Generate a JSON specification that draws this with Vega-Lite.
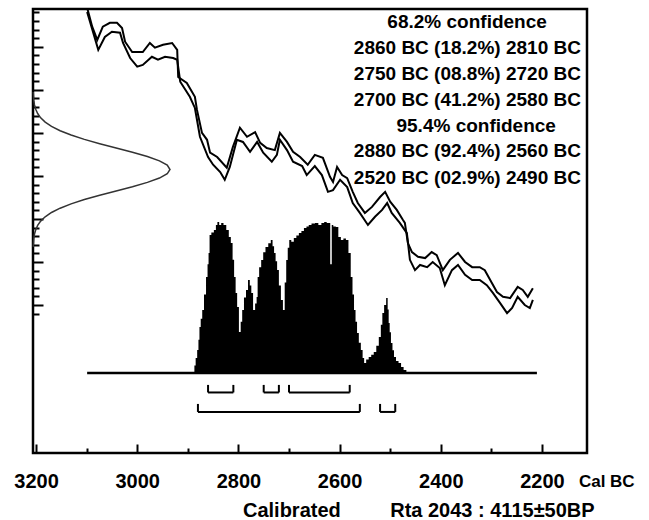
{
"$schema": "https://vega.github.io/schema/vega-lite/v6.json",
"width": 554, "height": 444,
"autosize": {"type": "none"},
"padding": {"left": 33, "top": 9, "right": 62, "bottom": 67},
"background": "white",
"config": {"view": {"stroke": "black", "strokeWidth": 2.5}, "font": "Liberation Sans"},
"datasets": {
"curve": [
{"s":"u","cal":3099,"bp":4491},{"s":"u","cal":3089,"bp":4447},{"s":"u","cal":3079,"bp":4416},{"s":"u","cal":3068,"bp":4447},{"s":"u","cal":3054,"bp":4456},{"s":"u","cal":3040,"bp":4456},{"s":"u","cal":3030,"bp":4444},{"s":"u","cal":3024,"bp":4412},{"s":"u","cal":3010,"bp":4388},{"s":"u","cal":2989,"bp":4388},{"s":"u","cal":2975,"bp":4409},{"s":"u","cal":2965,"bp":4398},{"s":"u","cal":2949,"bp":4405},{"s":"u","cal":2931,"bp":4409},{"s":"u","cal":2921,"bp":4393},{"s":"u","cal":2919,"bp":4330},{"s":"u","cal":2902,"bp":4316},{"s":"u","cal":2886,"bp":4284},{"s":"u","cal":2882,"bp":4254},{"s":"u","cal":2872,"bp":4200},{"s":"u","cal":2862,"bp":4184},{"s":"u","cal":2856,"bp":4154},{"s":"u","cal":2842,"bp":4144},{"s":"u","cal":2823,"bp":4119},{"s":"u","cal":2811,"bp":4167},{"s":"u","cal":2797,"bp":4212},{"s":"u","cal":2783,"bp":4191},{"s":"u","cal":2767,"bp":4202},{"s":"u","cal":2757,"bp":4177},{"s":"u","cal":2744,"bp":4165},{"s":"u","cal":2728,"bp":4160},{"s":"u","cal":2718,"bp":4200},{"s":"u","cal":2704,"bp":4179},{"s":"u","cal":2692,"bp":4156},{"s":"u","cal":2678,"bp":4144},{"s":"u","cal":2663,"bp":4126},{"s":"u","cal":2649,"bp":4149},{"s":"u","cal":2633,"bp":4142},{"s":"u","cal":2619,"bp":4098},{"s":"u","cal":2613,"bp":4086},{"s":"u","cal":2605,"bp":4121},{"s":"u","cal":2595,"bp":4102},{"s":"u","cal":2585,"bp":4095},{"s":"u","cal":2574,"bp":4063},{"s":"u","cal":2564,"bp":4037},{"s":"u","cal":2550,"bp":4014},{"s":"u","cal":2536,"bp":4028},{"s":"u","cal":2520,"bp":4051},{"s":"u","cal":2510,"bp":4063},{"s":"u","cal":2500,"bp":4040},{"s":"u","cal":2487,"bp":4021},{"s":"u","cal":2475,"bp":3998},{"s":"u","cal":2471,"bp":3991},{"s":"u","cal":2465,"bp":3944},{"s":"u","cal":2457,"bp":3923},{"s":"u","cal":2445,"bp":3912},{"s":"u","cal":2431,"bp":3909},{"s":"u","cal":2418,"bp":3923},{"s":"u","cal":2408,"bp":3916},{"s":"u","cal":2396,"bp":3881},{"s":"u","cal":2382,"bp":3905},{"s":"u","cal":2366,"bp":3921},{"s":"u","cal":2352,"bp":3900},{"s":"u","cal":2338,"bp":3888},{"s":"u","cal":2323,"bp":3888},{"s":"u","cal":2313,"bp":3881},{"s":"u","cal":2299,"bp":3851},{"s":"u","cal":2289,"bp":3830},{"s":"u","cal":2277,"bp":3819},{"s":"u","cal":2263,"bp":3816},{"s":"u","cal":2248,"bp":3842},{"s":"u","cal":2238,"bp":3835},{"s":"u","cal":2228,"bp":3819},{"s":"u","cal":2218,"bp":3839},
{"s":"l","cal":3099,"bp":4481},{"s":"l","cal":3077,"bp":4393},{"s":"l","cal":3064,"bp":4423},{"s":"l","cal":3050,"bp":4435},{"s":"l","cal":3034,"bp":4433},{"s":"l","cal":3028,"bp":4409},{"s":"l","cal":3014,"bp":4374},{"s":"l","cal":3000,"bp":4354},{"s":"l","cal":2989,"bp":4358},{"s":"l","cal":2971,"bp":4377},{"s":"l","cal":2959,"bp":4370},{"s":"l","cal":2945,"bp":4377},{"s":"l","cal":2929,"bp":4374},{"s":"l","cal":2921,"bp":4370},{"s":"l","cal":2915,"bp":4319},{"s":"l","cal":2896,"bp":4284},{"s":"l","cal":2886,"bp":4258},{"s":"l","cal":2876,"bp":4191},{"s":"l","cal":2860,"bp":4144},{"s":"l","cal":2850,"bp":4126},{"s":"l","cal":2836,"bp":4109},{"s":"l","cal":2827,"bp":4091},{"s":"l","cal":2817,"bp":4121},{"s":"l","cal":2803,"bp":4184},{"s":"l","cal":2791,"bp":4179},{"s":"l","cal":2777,"bp":4156},{"s":"l","cal":2763,"bp":4179},{"s":"l","cal":2751,"bp":4154},{"s":"l","cal":2734,"bp":4133},{"s":"l","cal":2724,"bp":4149},{"s":"l","cal":2718,"bp":4184},{"s":"l","cal":2704,"bp":4160},{"s":"l","cal":2692,"bp":4133},{"s":"l","cal":2674,"bp":4123},{"s":"l","cal":2665,"bp":4102},{"s":"l","cal":2649,"bp":4123},{"s":"l","cal":2635,"bp":4102},{"s":"l","cal":2623,"bp":4063},{"s":"l","cal":2613,"bp":4067},{"s":"l","cal":2599,"bp":4091},{"s":"l","cal":2585,"bp":4074},{"s":"l","cal":2574,"bp":4037},{"s":"l","cal":2560,"bp":4014},{"s":"l","cal":2544,"bp":3986},{"s":"l","cal":2530,"bp":4005},{"s":"l","cal":2516,"bp":4021},{"s":"l","cal":2506,"bp":4037},{"s":"l","cal":2497,"bp":4014},{"s":"l","cal":2481,"bp":3991},{"s":"l","cal":2467,"bp":3967},{"s":"l","cal":2461,"bp":3905},{"s":"l","cal":2451,"bp":3881},{"s":"l","cal":2441,"bp":3893},{"s":"l","cal":2427,"bp":3888},{"s":"l","cal":2416,"bp":3900},{"s":"l","cal":2402,"bp":3886},{"s":"l","cal":2392,"bp":3846},{"s":"l","cal":2378,"bp":3881},{"s":"l","cal":2366,"bp":3893},{"s":"l","cal":2352,"bp":3870},{"s":"l","cal":2338,"bp":3858},{"s":"l","cal":2323,"bp":3858},{"s":"l","cal":2309,"bp":3846},{"s":"l","cal":2297,"bp":3828},{"s":"l","cal":2283,"bp":3805},{"s":"l","cal":2269,"bp":3781},{"s":"l","cal":2259,"bp":3793},{"s":"l","cal":2248,"bp":3819},{"s":"l","cal":2234,"bp":3800},{"s":"l","cal":2224,"bp":3793},{"s":"l","cal":2218,"bp":3812}
],
"gauss": [
{"bp":3935,"d":0.0015},{"bp":3955,"d":0.006},{"bp":3965,"d":0.011},{"bp":3975,"d":0.02},{"bp":3985,"d":0.034},{"bp":3995,"d":0.056},{"bp":4005,"d":0.089},{"bp":4015,"d":0.135},{"bp":4025,"d":0.198},{"bp":4035,"d":0.278},{"bp":4045,"d":0.375},{"bp":4055,"d":0.487},{"bp":4065,"d":0.607},{"bp":4075,"d":0.726},{"bp":4085,"d":0.835},{"bp":4095,"d":0.923},{"bp":4105,"d":0.98},{"bp":4115,"d":1.0},{"bp":4125,"d":0.98},{"bp":4135,"d":0.923},{"bp":4145,"d":0.835},{"bp":4155,"d":0.726},{"bp":4165,"d":0.607},{"bp":4175,"d":0.487},{"bp":4185,"d":0.375},{"bp":4195,"d":0.278},{"bp":4205,"d":0.198},{"bp":4215,"d":0.135},{"bp":4225,"d":0.089},{"bp":4235,"d":0.056},{"bp":4245,"d":0.034},{"bp":4255,"d":0.02},{"bp":4265,"d":0.011},{"bp":4275,"d":0.006},{"bp":4295,"d":0.0015}
],
"hist": [
{"cal":2888,"p":0},{"cal":2886,"p":0.05},{"cal":2883,"p":0.1},{"cal":2880,"p":0.152},{"cal":2878,"p":0.22},{"cal":2876,"p":0.305},{"cal":2873,"p":0.36},{"cal":2870,"p":0.417},{"cal":2866,"p":0.52},{"cal":2862,"p":0.636},{"cal":2860,"p":0.72},{"cal":2858,"p":0.795},{"cal":2856,"p":0.914},{"cal":2851,"p":0.93},{"cal":2846,"p":0.947},{"cal":2843,"p":0.98},{"cal":2840,"p":1.0},{"cal":2836,"p":0.98},{"cal":2832,"p":0.993},{"cal":2827,"p":0.98},{"cal":2821,"p":0.947},{"cal":2817,"p":0.9},{"cal":2813,"p":0.861},{"cal":2810,"p":0.75},{"cal":2807,"p":0.636},{"cal":2804,"p":0.53},{"cal":2801,"p":0.437},{"cal":2797,"p":0.272},{"cal":2794,"p":0.34},{"cal":2791,"p":0.417},{"cal":2787,"p":0.5},{"cal":2783,"p":0.55},{"cal":2779,"p":0.616},{"cal":2776,"p":0.58},{"cal":2773,"p":0.53},{"cal":2769,"p":0.417},{"cal":2765,"p":0.46},{"cal":2763,"p":0.503},{"cal":2761,"p":0.636},{"cal":2757,"p":0.7},{"cal":2753,"p":0.748},{"cal":2749,"p":0.8},{"cal":2744,"p":0.834},{"cal":2738,"p":0.86},{"cal":2734,"p":0.881},{"cal":2731,"p":0.84},{"cal":2728,"p":0.795},{"cal":2725,"p":0.74},{"cal":2722,"p":0.682},{"cal":2718,"p":0.58},{"cal":2714,"p":0.483},{"cal":2710,"p":0.417},{"cal":2707,"p":0.6},{"cal":2704,"p":0.748},{"cal":2701,"p":0.83},{"cal":2698,"p":0.881},{"cal":2693,"p":0.87},{"cal":2688,"p":0.894},{"cal":2683,"p":0.91},{"cal":2678,"p":0.927},{"cal":2673,"p":0.94},{"cal":2668,"p":0.96},{"cal":2663,"p":0.97},{"cal":2659,"p":0.98},{"cal":2652,"p":0.99},{"cal":2645,"p":0.993},{"cal":2639,"p":0.98},{"cal":2633,"p":0.993},{"cal":2628,"p":1.0},{"cal":2623,"p":0.993},{"cal":2619,"p":0.993},{"cal":2618,"p":0.72},{"cal":2616,"p":0.72},{"cal":2615,"p":0.98},{"cal":2610,"p":0.97},{"cal":2605,"p":0.967},{"cal":2600,"p":0.9},{"cal":2595,"p":0.881},{"cal":2590,"p":0.89},{"cal":2585,"p":0.881},{"cal":2580,"p":0.795},{"cal":2576,"p":0.636},{"cal":2573,"p":0.52},{"cal":2570,"p":0.417},{"cal":2567,"p":0.34},{"cal":2564,"p":0.265},{"cal":2560,"p":0.2},{"cal":2556,"p":0.152},{"cal":2553,"p":0.1},{"cal":2550,"p":0.066},{"cal":2545,"p":0.09},{"cal":2540,"p":0.106},{"cal":2535,"p":0.12},{"cal":2530,"p":0.139},{"cal":2525,"p":0.18},{"cal":2520,"p":0.238},{"cal":2517,"p":0.32},{"cal":2514,"p":0.397},{"cal":2510,"p":0.45},{"cal":2506,"p":0.497},{"cal":2504,"p":0.42},{"cal":2502,"p":0.331},{"cal":2500,"p":0.27},{"cal":2497,"p":0.199},{"cal":2494,"p":0.15},{"cal":2491,"p":0.106},{"cal":2486,"p":0.08},{"cal":2481,"p":0.066},{"cal":2476,"p":0.04},{"cal":2471,"p":0.02},{"cal":2465,"p":0}
],
"base": [{"a":3099,"b":2210,"p":0}],
"brackets": [
{"a":2860,"b":2810,"lvl":-0.129,"top":-0.079},
{"a":2750,"b":2720,"lvl":-0.129,"top":-0.079},
{"a":2700,"b":2580,"lvl":-0.129,"top":-0.079},
{"a":2880,"b":2560,"lvl":-0.258,"top":-0.205},
{"a":2520,"b":2490,"lvl":-0.258,"top":-0.205}
],
"heads": [
{"t":"68.2% confidence","cal":2348,"bp":4442.7},
{"t":"95.4% confidence","cal":2330,"bp":4203.2}
],
"rows": [
{"t":"2860 BC (18.2%) 2810 BC","cal":2123,"bp":4383.4},
{"t":"2750 BC (08.8%) 2720 BC","cal":2123,"bp":4324.1},
{"t":"2700 BC (41.2%) 2580 BC","cal":2123,"bp":4262.5},
{"t":"2880 BC (92.4%) 2560 BC","cal":2123,"bp":4144},
{"t":"2520 BC (02.9%) 2490 BC","cal":2123,"bp":4082.4}
],
"unit": [{"t":"Cal BC","cal":2127,"bp":3377}],
"foot": [
{"t":"Calibrated","cal":2791,"bp":3307},
{"t":"Rta 2043 : 4115±50BP","cal":2500,"bp":3307}
]
},
"resolve": {"scale": {"x": "independent", "y": "independent"}},
"layer": [
{
"data": {"name": "hist"},
"mark": {"type": "area", "color": "black", "opacity": 1, "interpolate": "step"},
"encoding": {
"x": {"field": "cal", "type": "quantitative", "scale": {"domain": [2111, 3206], "reverse": true, "nice": false, "zero": false}, "axis": null},
"y": {"field": "p", "type": "quantitative", "scale": {"domain": [-0.53, 2.411], "nice": false, "zero": false}, "axis": null},
"y2": {"datum": 0}
}
},
{
"data": {"name": "base"},
"mark": {"type": "rule", "color": "black", "strokeWidth": 2.5},
"encoding": {
"x": {"field": "a", "type": "quantitative", "scale": {"domain": [2111, 3206], "reverse": true, "nice": false, "zero": false}, "axis": null},
"x2": {"field": "b"},
"y": {"field": "p", "type": "quantitative", "scale": {"domain": [-0.53, 2.411], "nice": false, "zero": false}, "axis": null}
}
},
{
"data": {"name": "brackets"},
"mark": {"type": "rule", "color": "black", "strokeWidth": 2},
"encoding": {
"x": {"field": "a", "type": "quantitative", "scale": {"domain": [2111, 3206], "reverse": true, "nice": false, "zero": false}, "axis": null},
"x2": {"field": "b"},
"y": {"field": "lvl", "type": "quantitative", "scale": {"domain": [-0.53, 2.411], "nice": false, "zero": false}, "axis": null}
}
},
{
"data": {"name": "brackets"},
"mark": {"type": "rule", "color": "black", "strokeWidth": 2},
"encoding": {
"x": {"field": "a", "type": "quantitative", "scale": {"domain": [2111, 3206], "reverse": true, "nice": false, "zero": false}, "axis": null},
"y": {"field": "lvl", "type": "quantitative", "scale": {"domain": [-0.53, 2.411], "nice": false, "zero": false}, "axis": null},
"y2": {"field": "top"}
}
},
{
"data": {"name": "brackets"},
"mark": {"type": "rule", "color": "black", "strokeWidth": 2},
"encoding": {
"x": {"field": "b", "type": "quantitative", "scale": {"domain": [2111, 3206], "reverse": true, "nice": false, "zero": false}, "axis": null},
"y": {"field": "lvl", "type": "quantitative", "scale": {"domain": [-0.53, 2.411], "nice": false, "zero": false}, "axis": null},
"y2": {"field": "top"}
}
},
{
"data": {"name": "gauss"},
"mark": {"type": "line", "color": "#333333", "strokeWidth": 1.5},
"encoding": {
"x": {"field": "d", "type": "quantitative", "scale": {"domain": [0, 4.044], "nice": false, "zero": false}, "axis": null},
"y": {"field": "bp", "type": "quantitative", "scale": {"domain": [3456, 4488], "nice": false, "zero": false}, "axis": null},
"order": {"field": "bp"}
}
},
{
"data": {"name": "curve"},
"mark": {"type": "line", "color": "black", "strokeWidth": 2, "clip": true},
"encoding": {
"x": {"field": "cal", "type": "quantitative", "scale": {"domain": [2111, 3206], "reverse": true, "nice": false, "zero": false},
"axis": {"values": [3200,3100,3000,2900,2800,2700,2600,2500,2400,2300,2200], "title": null, "domain": false, "grid": false,
"labelExpr": "datum.value % 200 === 0 ? format(datum.value, 'd') : ''",
"labelFont": "Liberation Sans", "labelFontWeight": "bold", "labelFontSize": 20, "labelColor": "black", "labelPadding": 27, "labelOverlap": false, "labelFlush": false,
"tickColor": "black", "tickWidth": 2, "tickSize": {"condition": {"test": "datum.value % 200 === 0", "value": -9}, "value": -5}}},
"y": {"field": "bp", "type": "quantitative", "scale": {"domain": [3456, 4488], "nice": false, "zero": false},
"axis": {"values": [3780,3800,3820,3840,3860,3880,3900,3920,3940,3960,3980,4000,4020,4040,4060,4080,4100,4120,4140,4160,4180,4200,4220,4240,4260,4280,4300,4320,4340,4360,4380,4400,4420,4440,4460,4480],
"title": null, "labels": false, "domain": false, "grid": false, "tickColor": "black", "tickWidth": 2,
"tickSize": {"condition": {"test": "datum.value % 100 === 0", "value": -10}, "value": -6}}},
"detail": {"field": "s"}
}
},
{
"data": {"name": "heads"},
"mark": {"type": "text", "align": "center", "baseline": "alphabetic", "font": "Liberation Sans", "fontWeight": "bold", "fontSize": 19, "color": "black"},
"encoding": {
"x": {"field": "cal", "type": "quantitative", "scale": {"domain": [2111, 3206], "reverse": true, "nice": false, "zero": false}, "axis": null},
"y": {"field": "bp", "type": "quantitative", "scale": {"domain": [3456, 4488], "nice": false, "zero": false}, "axis": null},
"text": {"field": "t"}
}
},
{
"data": {"name": "rows"},
"mark": {"type": "text", "align": "right", "baseline": "alphabetic", "font": "Liberation Sans", "fontWeight": "bold", "fontSize": 19, "color": "black"},
"encoding": {
"x": {"field": "cal", "type": "quantitative", "scale": {"domain": [2111, 3206], "reverse": true, "nice": false, "zero": false}, "axis": null},
"y": {"field": "bp", "type": "quantitative", "scale": {"domain": [3456, 4488], "nice": false, "zero": false}, "axis": null},
"text": {"field": "t"}
}
},
{
"data": {"name": "unit"},
"mark": {"type": "text", "align": "left", "baseline": "alphabetic", "font": "Liberation Sans", "fontWeight": "bold", "fontSize": 17, "color": "black"},
"encoding": {
"x": {"field": "cal", "type": "quantitative", "scale": {"domain": [2111, 3206], "reverse": true, "nice": false, "zero": false}, "axis": null},
"y": {"field": "bp", "type": "quantitative", "scale": {"domain": [3456, 4488], "nice": false, "zero": false}, "axis": null},
"text": {"field": "t"}
}
},
{
"data": {"name": "foot"},
"mark": {"type": "text", "align": "left", "baseline": "alphabetic", "font": "Liberation Sans", "fontWeight": "bold", "fontSize": 20, "color": "black"},
"encoding": {
"x": {"field": "cal", "type": "quantitative", "scale": {"domain": [2111, 3206], "reverse": true, "nice": false, "zero": false}, "axis": null},
"y": {"field": "bp", "type": "quantitative", "scale": {"domain": [3456, 4488], "nice": false, "zero": false}, "axis": null},
"text": {"field": "t"}
}
}
]
}
